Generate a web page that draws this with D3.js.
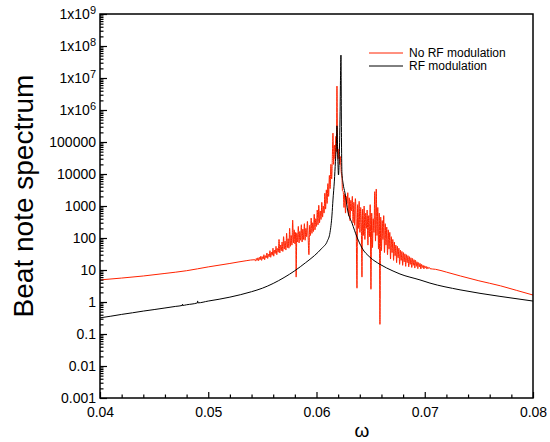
<!DOCTYPE html>
<html>
<head>
<meta charset="utf-8">
<script src="https://cdn.jsdelivr.net/npm/d3@7"></script>
<style>
  body { margin: 0; background: #fff; }
  text { font-family: "Liberation Sans", Arial, Helvetica, sans-serif; }
</style>
</head>
<body>
<svg id="chart" width="550" height="442"></svg>
<script>
// tick values
var omegaTicks = [0.04, 0.05, 0.06, 0.07, 0.08];
var powerTicks = [1e-3, 1e-2, 1e-1, 1, 10, 100, 1e3, 1e4, 1e5, 1e6, 1e7, 1e8, 1e9];
var seriesNames = ["No RF modulation", "RF modulation"];

// No RF modulation  [omega, beat note spectrum]
var noRfModulation = [
  [0.0400, 4.9], [0.0420, 5.6], [0.0440, 6.5], [0.0460, 7.8], [0.0480, 9.5],
  [0.0500, 12.5], [0.0520, 16], [0.0535, 19.5],
  [0.05430, 21], [0.05437, 19], [0.05444, 23], [0.05451, 20], [0.05458, 24],
  [0.05465, 19.5], [0.05472, 25], [0.05479, 21], [0.05486, 27], [0.05493, 20],
  [0.05500, 26], [0.05507, 22], [0.05514, 30], [0.05521, 21], [0.05528, 28],
  [0.05535, 24], [0.05542, 34], [0.05549, 23], [0.05556, 31], [0.05563, 26],
  [0.05570, 40], [0.05577, 25], [0.05584, 36], [0.05591, 29], [0.05598, 48],
  [0.05605, 27], [0.05612, 42], [0.05619, 33], [0.05626, 55], [0.05633, 30],
  [0.05640, 47], [0.05647, 36], [0.05654, 90], [0.05661, 34], [0.05668, 60],
  [0.05675, 40], [0.05682, 75], [0.05689, 38], [0.05696, 110], [0.05703, 45],
  [0.05710, 80], [0.05717, 42], [0.05724, 140], [0.05731, 50], [0.05738, 95],
  [0.05745, 48], [0.05752, 200], [0.05759, 55], [0.05766, 120], [0.05773, 60],
  [0.05780, 360], [0.05787, 70], [0.05794, 180], [0.05801, 65], [0.05808, 150],
  [0.05812, 6], [0.05818, 140], [0.05825, 75], [0.05832, 230], [0.05839, 70],
  [0.05846, 160], [0.05853, 85], [0.05860, 260], [0.05867, 75], [0.05874, 190],
  [0.05881, 90], [0.05888, 280], [0.05895, 85], [0.05902, 200], [0.05909, 110],
  [0.05916, 330], [0.05923, 100], [0.05930, 30], [0.05937, 250], [0.05944, 120],
  [0.05951, 420], [0.05958, 140], [0.05965, 300], [0.05972, 160], [0.05979, 550],
  [0.05986, 180], [0.05993, 400], [0.06000, 230], [0.06007, 750], [0.06014, 260],
  [0.06021, 1050], [0.06028, 300], [0.06035, 700], [0.06042, 380], [0.06049, 1300],
  [0.06056, 450], [0.06063, 1000], [0.06070, 600], [0.06077, 2500], [0.06084, 800],
  [0.06091, 3200], [0.06098, 1200], [0.06105, 5000], [0.06112, 2000], [0.06119, 9000],
  [0.06126, 3500], [0.06133, 2e4], [0.06140, 7000], [0.06147, 4e4], [0.06152, 1.9e5],
  [0.06158, 2e4], [0.06165, 8e4], [0.06172, 3e4], [0.06179, 1.5e5], [0.06184, 5e4],
  [0.06189, 5.6e6], [0.06194, 8e4], [0.06200, 3e4], [0.06207, 6e4], [0.06214, 2e4],
  [0.06221, 3.5e4], [0.06228, 1.2e4], [0.06235, 8000], [0.06240, 3000],
  [0.06247, 2800], [0.06254, 900], [0.06261, 2400], [0.06268, 600], [0.06275, 2000],
  [0.06282, 1200], [0.06289, 2600], [0.06296, 500], [0.06303, 1800], [0.06310, 350],
  [0.06317, 1500], [0.06324, 700], [0.06331, 2000], [0.06338, 300], [0.06345, 1300],
  [0.06352, 250], [0.06359, 1700], [0.06366, 400], [0.06374, 2.7], [0.06380, 1100],
  [0.06387, 200], [0.06394, 1400], [0.06401, 150], [0.06408, 900], [0.06414, 300],
  [0.06420, 6], [0.06426, 800], [0.06433, 120], [0.06440, 1000], [0.06447, 90],
  [0.06454, 600], [0.06461, 200], [0.06468, 750], [0.06475, 60], [0.06482, 500],
  [0.06489, 110], [0.06496, 1100], [0.06503, 2.5], [0.06510, 600], [0.06517, 50],
  [0.06524, 400], [0.06531, 150], [0.06538, 2800], [0.06545, 80], [0.06552, 3400],
  [0.06559, 120], [0.06566, 900], [0.06573, 45], [0.06580, 600], [0.06586, 0.2],
  [0.06593, 450], [0.06600, 40], [0.06607, 350], [0.06614, 90], [0.06621, 500],
  [0.06628, 35], [0.06635, 280], [0.06642, 60], [0.06649, 220], [0.06656, 30],
  [0.06663, 180], [0.06670, 45], [0.06677, 150], [0.06684, 22], [0.06691, 110],
  [0.06698, 35], [0.06705, 90], [0.06712, 20], [0.06719, 75], [0.06726, 28],
  [0.06733, 60], [0.06740, 17], [0.06747, 55], [0.06754, 24], [0.06761, 48],
  [0.06768, 15], [0.06775, 42], [0.06782, 20], [0.06789, 38], [0.06796, 14],
  [0.06803, 35], [0.06810, 18], [0.06817, 32], [0.06824, 13], [0.06831, 30],
  [0.06838, 17], [0.06845, 28], [0.06852, 12.5], [0.06859, 26], [0.06866, 15],
  [0.06873, 24], [0.06880, 12], [0.06887, 23], [0.06894, 14], [0.06901, 21],
  [0.06908, 11.5], [0.06915, 20], [0.06922, 13], [0.06929, 18], [0.06936, 11],
  [0.06943, 17], [0.06950, 12.5], [0.06957, 16], [0.06964, 10.8], [0.06971, 15],
  [0.06978, 12], [0.06985, 14], [0.06992, 10.8], [0.06999, 13.5], [0.07006, 11.5],
  [0.07013, 13], [0.07020, 10.7], [0.07027, 12.5], [0.07034, 11.2], [0.07041, 12],
  [0.07048, 11],
  [0.0710, 10.5], [0.0720, 8.6], [0.0733, 6.5], [0.0750, 4.6], [0.0770, 3.2],
  [0.0785, 2.3], [0.0800, 1.65]
];

// RF modulation  [omega, beat note spectrum]
var rfModulation = [
  [0.0400, 0.32], [0.0410, 0.36], [0.0420, 0.41], [0.0430, 0.46], [0.0440, 0.52],
  [0.0450, 0.58], [0.0460, 0.65], [0.0470, 0.73], [0.0476, 0.78], [0.04762, 0.86],
  [0.04764, 0.78], [0.0480, 0.82], [0.0490, 0.94], [0.04902, 1.08], [0.04904, 0.94],
  [0.0500, 1.07], [0.0510, 1.22], [0.0520, 1.42], [0.0530, 1.7], [0.0540, 2.1],
  [0.0550, 2.7], [0.0560, 3.8], [0.0570, 5.8], [0.0580, 9.5], [0.0590, 17],
  [0.0598, 28], [0.0605, 48], [0.0610, 80], [0.06125, 150], [0.06143, 520],
  [0.06152, 1540], [0.06165, 6000], [0.06175, 2.5e4], [0.06185, 1.15e5], [0.06189, 3.2e5],
  [0.06196, 4e4], [0.06203, 9300], [0.06212, 6e4], [0.06217, 4.9e5], [0.06226, 5.2e7],
  [0.06231, 1e5], [0.06235, 1.07e4], [0.06245, 5200], [0.06263, 2560], [0.06291, 650],
  [0.06328, 293], [0.06374, 107], [0.06420, 49], [0.06494, 25], [0.06587, 15],
  [0.06707, 9.3], [0.06771, 7.5], [0.06956, 4.9], [0.07048, 3.9], [0.07326, 2.4],
  [0.07695, 1.5], [0.0800, 1.07]
];

var seriesColors = ["#ff2200", "#000000"];

var svg = d3.select("#chart");
var plotLeft = 100, plotRight = 533, plotTop = 14, plotBottom = 398;

var x = d3.scaleLinear().domain([0.04, 0.08]).range([plotLeft, plotRight]);
var y = d3.scaleLog().domain([1e-3, 1e9]).range([plotBottom, plotTop]);

svg.append("clipPath").attr("id", "plotclip")
  .append("rect").attr("x", plotLeft).attr("y", plotTop)
  .attr("width", plotRight - plotLeft).attr("height", plotBottom - plotTop);

var line = d3.line()
  .x(function(d) { return x(d[0]); })
  .y(function(d) { return y(d[1]); })
  .curve(d3.curveMonotoneX);

var plot = svg.append("g").attr("clip-path", "url(#plotclip)");
plot.append("path").datum(noRfModulation)
  .attr("fill", "none").attr("stroke", seriesColors[0]).attr("stroke-width", 1)
  .attr("d", line);
plot.append("path").datum(rfModulation)
  .attr("fill", "none").attr("stroke", seriesColors[1]).attr("stroke-width", 1)
  .attr("d", line);

// frame
svg.append("rect").attr("x", plotLeft).attr("y", plotTop)
  .attr("width", plotRight - plotLeft).attr("height", plotBottom - plotTop)
  .attr("fill", "none").attr("stroke", "#000").attr("stroke-width", 1.5);

// minor ticks
var yMinor = [];
for (var e = -3; e < 9; e++) {
  for (var k = 2; k <= 9; k++) yMinor.push(k * Math.pow(10, e));
}
var xMinor = d3.range(0, 21).map(function(i) { return 0.04 + i * 0.002; })
  .filter(function(v, i) { return i % 5 !== 0; });

var yAxisMinor = svg.append("g").attr("transform", "translate(" + plotLeft + ",0)")
  .call(d3.axisLeft(y).tickValues(yMinor).tickSizeInner(-3.5).tickSizeOuter(0).tickFormat(""));
var xAxisMinor = svg.append("g").attr("transform", "translate(0," + plotBottom + ")")
  .call(d3.axisBottom(x).tickValues(xMinor).tickSizeInner(-3.5).tickSizeOuter(0).tickFormat(""));

var yAxis = svg.append("g").attr("transform", "translate(" + plotLeft + ",0)")
  .call(d3.axisLeft(y).tickValues(powerTicks).tickSizeInner(-7).tickSizeOuter(0).tickFormat(""));
var xAxis = svg.append("g").attr("transform", "translate(0," + plotBottom + ")")
  .call(d3.axisBottom(x).tickValues(omegaTicks).tickSizeInner(-6).tickSizeOuter(0)
    .tickFormat(function(d) { return d3.format(".2f")(d); }).tickPadding(9));

[yAxisMinor, xAxisMinor, yAxis, xAxis].forEach(function(g) {
  g.select(".domain").remove();
  g.selectAll("line").attr("stroke", "#000").attr("stroke-width", 1.2);
});
xAxis.selectAll("text").attr("font-size", 14).attr("fill", "#000");

// y tick labels, 1x10^n above 1e5
yAxis.selectAll(".tick").each(function(d) {
  var t = d3.select(this).append("text")
    .attr("x", -4).attr("dy", "0.35em")
    .attr("text-anchor", "end").attr("font-size", 14).attr("fill", "#000");
  var p = Math.round(Math.log10(d));
  if (p >= 6) {
    t.append("tspan").text("1x10");
    t.append("tspan").attr("font-size", 11).attr("dy", "-0.5em").text(p);
  } else if (p >= 0) {
    t.text(String(Math.pow(10, p)));
  } else {
    t.text(d3.format("." + (-p) + "f")(d));
  }
});

// axis titles
svg.append("text")
  .attr("transform", "translate(33,196) rotate(-90)")
  .attr("text-anchor", "middle").attr("font-size", 28).text("Beat note spectrum");
svg.append("text")
  .attr("x", 362).attr("y", 437).attr("text-anchor", "middle")
  .attr("font-size", 19).text("\u03c9");

// legend
var legend = svg.append("g");
seriesNames.forEach(function(name, i) {
  var ly = 53 + i * 13;
  legend.append("line").attr("x1", 369).attr("x2", 403).attr("y1", ly).attr("y2", ly)
    .attr("stroke", seriesColors[i]).attr("stroke-width", 1);
  legend.append("text").attr("x", 409).attr("y", ly).attr("dy", "0.35em")
    .attr("font-size", 12).text(name);
});
</script>
</body>
</html>
